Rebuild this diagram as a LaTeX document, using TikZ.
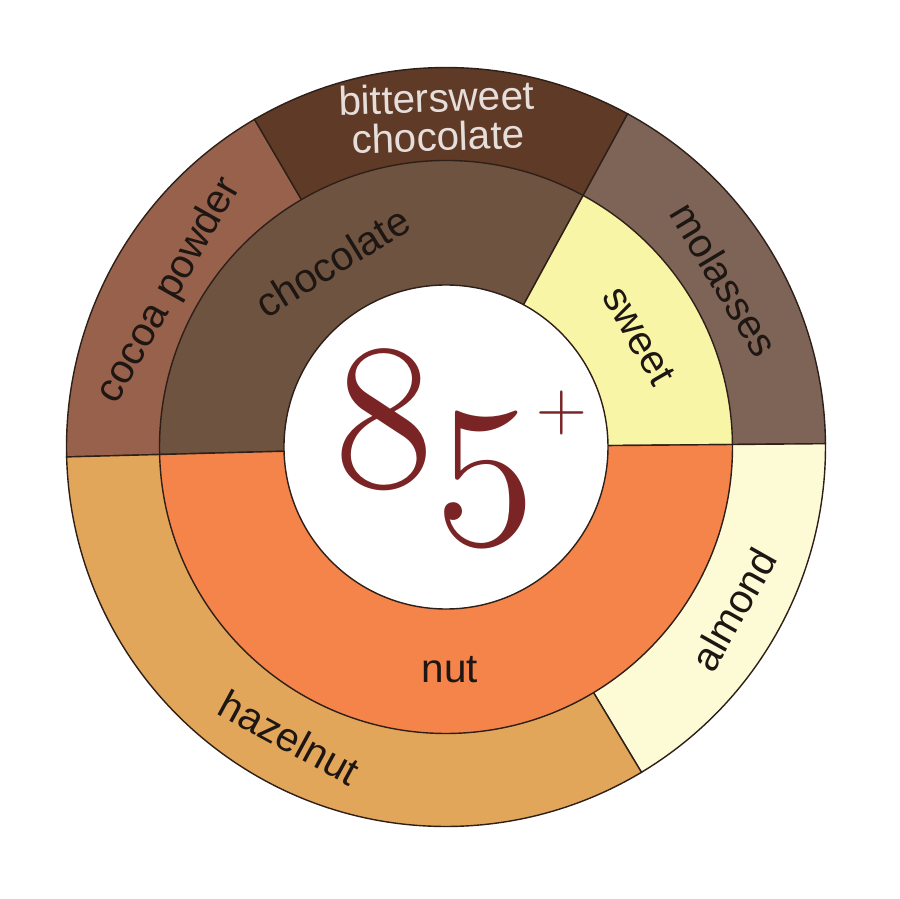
\documentclass[tikz,border=0pt]{standalone}
\usepackage{fontspec}
\usepackage{tikz}
\usetikzlibrary{positioning}
\newfontfamily\labelfont{Liberation Sans}
\DeclareFontFamily{OML}{scorefig}{}
\DeclareFontShape{OML}{scorefig}{m}{it}{<->cmmi12}{}
\newcommand\scorefont{\fontencoding{OML}\fontfamily{scorefig}\fontseries{m}\fontshape{it}}
\definecolor{CocoaBrown}{HTML}{97614B}
\definecolor{BitterBrown}{HTML}{5F3A26}
\definecolor{MolassesTaupe}{HTML}{7E6457}
\definecolor{ChocoBrown}{HTML}{6D5340}
\definecolor{SweetYellow}{HTML}{F9F5A6}
\definecolor{NutOrange}{HTML}{F4844A}
\definecolor{HazelTan}{HTML}{E1A65A}
\definecolor{AlmondCream}{HTML}{FDFBD5}
\definecolor{ScoreRed}{HTML}{7A2426}
\definecolor{EdgeDark}{HTML}{2E2018}
\definecolor{LabelDark}{HTML}{1E1612}
\definecolor{LabelLight}{HTML}{E6DEDA}

\begin{document}
\begin{tikzpicture}[every node/.style={font=\labelfont\fontsize{23}{22}\selectfont, text=LabelDark, align=center, inner sep=0pt}, sector/.style={draw=EdgeDark, line width=0.8pt}]
  \fill[white] (-8.92,-9.04) rectangle (9.08,8.94);
  \useasboundingbox (-8.92,-9.04) rectangle (9.08,8.94);

  % Outer ring
  \draw[sector, fill=CocoaBrown] (0,0) -- (120.3:7.59) arc[start angle=120.3, end angle=181.5, radius=7.59] -- cycle;
  \draw[sector, fill=BitterBrown] (0,0) -- (61.4:7.59) arc[start angle=61.4, end angle=120.3, radius=7.59] -- cycle;
  \draw[sector, fill=MolassesTaupe] (0,0) -- (0.5:7.59) arc[start angle=0.5, end angle=61.4, radius=7.59] -- cycle;
  \draw[sector, fill=AlmondCream] (0,0) -- (-59:7.59) arc[start angle=-59, end angle=0.5, radius=7.59] -- cycle;
  \draw[sector, fill=HazelTan] (0,0) -- (181.5:7.59) arc[start angle=181.5, end angle=301, radius=7.59] -- cycle;

  % Middle ring
  \draw[sector, fill=ChocoBrown] (0,0) -- (61.4:5.73) arc[start angle=61.4, end angle=181.5, radius=5.73] -- cycle;
  \draw[sector, fill=SweetYellow] (0,0) -- (0.5:5.73) arc[start angle=0.5, end angle=61.4, radius=5.73] -- cycle;
  \draw[sector, fill=NutOrange] (0,0) -- (181.5:5.73) arc[start angle=181.5, end angle=360.5, radius=5.73] -- cycle;

  % Hub
  \node[circle, draw=EdgeDark, line width=0.8pt, fill=white, minimum size=6.48cm] (hub) at (0,0) {};
  \node[anchor=base, text=ScoreRed, font=\scorefont\fontsize{118}{118}\selectfont] (score) at (0.28,-0.8) {8\raisebox{-10pt}{5}\raisebox{32pt}{\normalfont\fontsize{40}{40}\selectfont +}};

  % Labels
  \node[text=LabelLight, rotate=2] (bitter) at (91.5:6.6) {bittersweet\\chocolate};
  \node[rotate=60.5] (cocoa) at (150.5:6.35) {cocoa powder};
  \node[rotate=-59] (molasses) at (31:6.5) {molasses};
  \node[rotate=60.5] (almond) at (-29.5:6.6) {almond};
  \node[rotate=-28.5] (hazelnut) at (241.7:6.6) {hazelnut};
  \node[rotate=31.5] (choco) at (121.5:4.35) {chocolate};
  \node[rotate=-60] (sweet) at (30:4.45) {sweet};
  \node (nut) at (271:4.46) {nut};
\end{tikzpicture}
\end{document}
